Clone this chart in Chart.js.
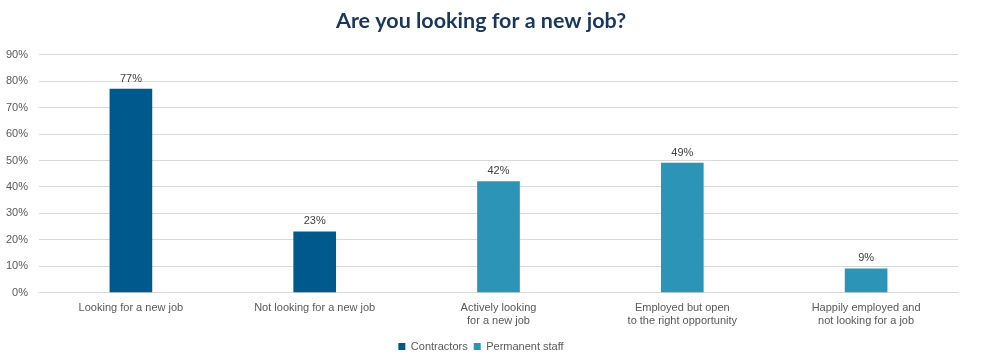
<!DOCTYPE html>
<html>
<head>
<meta charset="utf-8">
<script src="https://cdn.jsdelivr.net/npm/chart.js@4/dist/chart.umd.min.js"></script>
<style>
  html, body { margin: 0; padding: 0; background: #fff; }
  #wrap { width: 1000px; height: 364px; }
</style>
</head>
<body>
<div id="wrap"><canvas id="chart"></canvas></div>
<script>
const categories = [
  'Looking for a new job',
  'Not looking for a new job',
  ['Actively looking', 'for a new job'],
  ['Employed but open', 'to the right opportunity'],
  ['Happily employed and', 'not looking for a job'],
];
const contractors = [77, 23, null, null, null];
const permanentStaff = [null, null, 42, 49, 9];
const yTicks = [0, 10, 20, 30, 40, 50, 60, 70, 80, 90];

// value labels above each bar
const barLabels = {
  id: 'barLabels',
  afterDatasetsDraw(chart) {
    const { ctx } = chart;
    ctx.save();
    ctx.font = '11px "Liberation Sans", Arial, sans-serif';
    ctx.fillStyle = '#404040';
    ctx.textAlign = 'center';
    ctx.textBaseline = 'bottom';
    chart.data.datasets.forEach((ds, i) => {
      chart.getDatasetMeta(i).data.forEach((bar, j) => {
        if (ds.data[j] == null) return;
        ctx.fillText(ds.data[j] + '%', bar.x, bar.y - 5);
      });
    });
    ctx.restore();
  },
};

const config = {
  type: 'bar',
  data: {
    labels: categories,
    datasets: [
      {
        label: 'Contractors',
        data: contractors,
        backgroundColor: '#00598c',
        skipNull: true,
        barThickness: 42,
      },
      {
        label: 'Permanent staff',
        data: permanentStaff,
        backgroundColor: '#2c95b7',
        skipNull: true,
        barThickness: 42,
      },
    ],
  },
  options: {
    responsive: true,
    maintainAspectRatio: false,
    animation: false,
    layout: { padding: { left: 4, right: 42, top: 0, bottom: 2 } },
    scales: {
      x: {
        grid: { display: false },
        border: { color: '#d9d9d9' },
        afterFit: (scale) => {
          scale.height += 6;
        },
        ticks: {
          color: '#595959',
          font: { family: '"Liberation Sans", Arial, sans-serif', size: 11 },
          maxRotation: 0,
          autoSkip: false,
          padding: 1,
        },
      },
      y: {
        min: 0,
        max: 90,
        afterBuildTicks: (scale) => {
          scale.ticks = yTicks.map((v) => ({ value: v }));
        },
        afterFit: (scale) => {
          scale.width = 35;
        },
        grid: { color: '#d9d9d9', drawTicks: false },
        border: { display: false },
        ticks: {
          color: '#595959',
          font: { family: '"Liberation Sans", Arial, sans-serif', size: 11 },
          padding: 11,
          callback: (v) => v + '%',
        },
      },
    },
    plugins: {
      title: {
        display: true,
        text: 'Are you looking for a new job?',
        color: '#17375e',
        font: { family: 'Lato, sans-serif', size: 21.5, weight: 'bold' },
        padding: { top: 8, bottom: 21 },
      },
      legend: {
        position: 'bottom',
        labels: {
          color: '#595959',
          font: { family: '"Liberation Sans", Arial, sans-serif', size: 11 },
          boxWidth: 7,
          boxHeight: 7,
          padding: 6,
        },
      },
      tooltip: { enabled: false },
    },
  },
  plugins: [barLabels],
};

new Chart(document.getElementById('chart'), config);
</script>
</body>
</html>
